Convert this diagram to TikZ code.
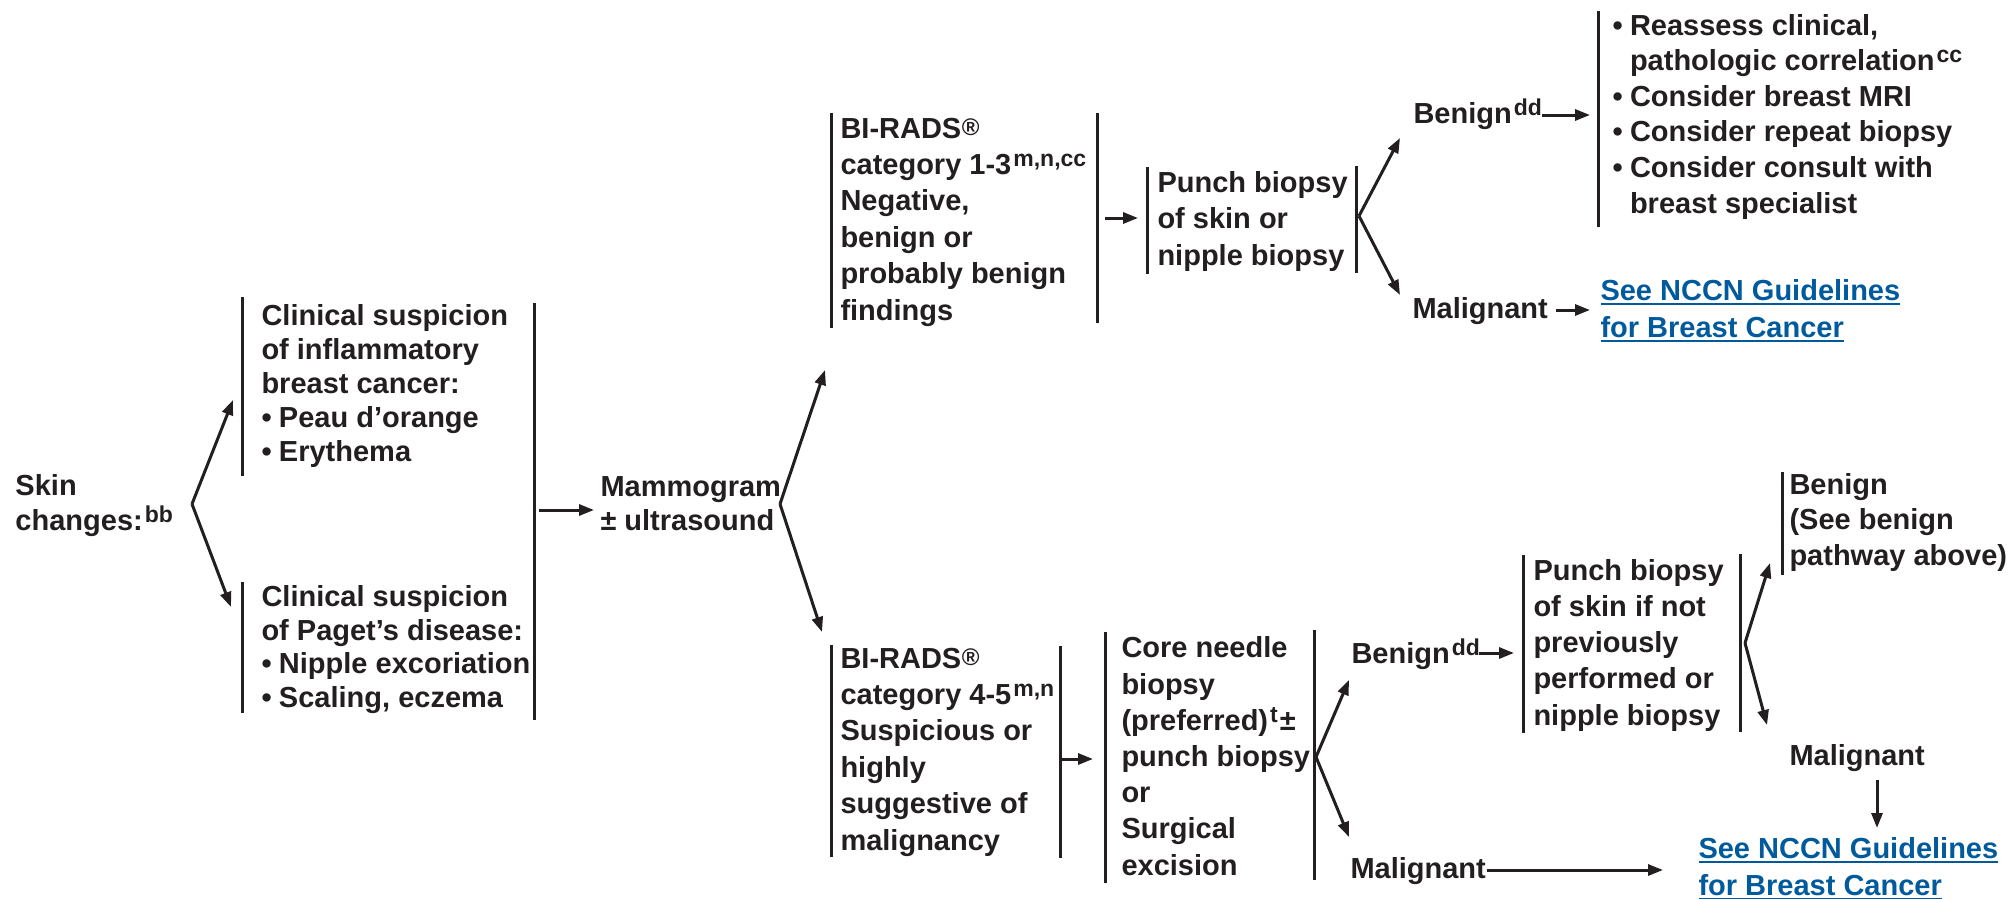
\documentclass[tikz,border=0pt]{standalone}
\usepackage{fontspec}
\setmainfont{Liberation Sans}
\usetikzlibrary{arrows.meta}
\definecolor{ink}{HTML}{231F20}
\definecolor{link}{HTML}{005A9C}
% raised footnote letters
\newcommand\sups[1]{\kern2pt\raisebox{8pt}{\fontsize{23}{23}\selectfont #1}}
% registered mark after BI-RADS
\newcommand\regm{\kern0.5pt\raisebox{3pt}{\fontsize{24}{24}\selectfont ®}}
% bullet item and the matching indent for wrapped lines
\newcommand\bul{\makebox[17.5pt][l]{\textbullet}}
\newcommand\ind{\hspace*{17.5pt}}
% underlined link text
\newcommand\linkline[1]{\setbox0\hbox{#1}\rlap{\rule[-5pt]{\wd0}{2.4pt}}\box0}
\begin{document}
\begin{tikzpicture}[x=1pt,y=-1pt,
  line width=3pt, draw=ink, text=ink,
  % nodes are placed by the baseline of their last line
  txt/.style={anchor=base west, inner sep=0pt, align=left,
    font={\fontsize{29}{#1}\selectfont\bfseries}},
  txt/.default=34.5,
  lnk/.style={txt=#1, text=link},
  arr/.style={-{Triangle[length=15pt,width=11pt]}},
  bar/.style={line width=3pt}]
\useasboundingbox (0,0) rectangle (2011,899);

% ---------- text blocks ----------
\node[txt=35]   (skin)    at (14,530)   {Skin\\changes:\sups{bb}};
\node[txt=34]   (inflam)  at (260,461)  {Clinical suspicion\\of inflammatory\\breast cancer:\\\bul Peau d’orange\\\bul Erythema};
\node[txt=33.5] (paget)   at (260,707)  {Clinical suspicion\\of Paget’s disease:\\\bul Nipple excoriation\\\bul Scaling, eczema};
\node[txt=34]   (mammo)   at (599,530)  {Mammogram\\± ultrasound};
\node[txt=36.4] (birA)    at (839,320)  {BI-RADS\regm\\category 1-3\sups{m,n,cc}\\Negative,\\benign or\\probably benign\\findings};
\node[txt=36.5] (punchA)  at (1156,265) {Punch biopsy\\of skin or\\nipple biopsy};
\node[txt]      (benA)    at (1412,123) {Benign\sups{dd}};
\node[txt=35.6] (reass)   at (1611,213) {\bul Reassess clinical,\\\ind pathologic correlation\sups{cc}\\\bul Consider breast MRI\\\bul Consider repeat biopsy\\\bul Consider consult with\\\ind breast specialist};
\node[txt]      (malA)    at (1411,318) {Malignant};
\node[lnk=37]   (nccnA)   at (1599,337) {\linkline{See NCCN Guidelines}\\\linkline{for Breast Cancer}};

\node[txt=36.4] (birB)    at (839,850)  {BI-RADS\regm\\category 4-5\sups{m,n}\\Suspicious or\\highly\\suggestive of\\malignancy};
\node[txt=36.2] (core)    at (1120,875) {Core needle\\biopsy\\(preferred)\sups{t}\kern2pt±\\punch biopsy\\or\\Surgical\\excision};
\node[txt]      (benB)    at (1350,663) {Benign\sups{dd}};
\node[txt=36.2] (punchB)  at (1532,725) {Punch biopsy\\of skin if not\\previously\\performed or\\nipple biopsy};
\node[txt=35.5] (benC)    at (1788,565) {Benign\\(See benign\\pathway above)};
\node[txt]      (malC)    at (1788,765) {Malignant};
\node[lnk=37]   (nccnB)   at (1697,895) {\linkline{See NCCN Guidelines}\\\linkline{for Breast Cancer}};
\node[txt]      (malB)    at (1349,878) {Malignant};

% ---------- side bars ----------
\draw[bar] (242,297) -- (242,476);
\draw[bar] (242,582) -- (242,713);
\draw[bar] (534,303) -- (534,720);
\draw[bar] (831,113) -- (831,328);
\draw[bar] (1097,113) -- (1097,323);
\draw[bar] (1147,167) -- (1147,274);
\draw[bar] (1356,166) -- (1356,273);
\draw[bar] (1598,11) -- (1598,227);
\draw[bar] (831,645) -- (831,857);
\draw[bar] (1060,646) -- (1060,858);
\draw[bar] (1105,632) -- (1105,883);
\draw[bar] (1314,630) -- (1314,880);
\draw[bar] (1523,555) -- (1523,733);
\draw[bar] (1740,554) -- (1740,732);
\draw[bar] (1782,472) -- (1782,575);

% ---------- connector ends ----------
\coordinate (f1)  at (192,504);
\coordinate (f1a) at (233,400);
\coordinate (f1b) at (231,607);
\coordinate (m0)  at (539,510);
\coordinate (m1)  at (594,510);
\coordinate (f2)  at (780,504);
\coordinate (f2a) at (825,370);
\coordinate (f2b) at (822,632);
\coordinate (p0)  at (1105,218);
\coordinate (p1)  at (1138,218);
\coordinate (f3)  at (1359,216);
\coordinate (f3a) at (1400,138);
\coordinate (f3b) at (1400,295);
\coordinate (b0)  at (1542,115);
\coordinate (b1)  at (1590,115);
\coordinate (k0)  at (1556,310);
\coordinate (k1)  at (1590,310);
\coordinate (c0)  at (1062,759);
\coordinate (c1)  at (1093,759);
\coordinate (f4)  at (1316,757);
\coordinate (f4a) at (1349,680);
\coordinate (f4b) at (1349,837);
\coordinate (d0)  at (1479,653);
\coordinate (d1)  at (1514,653);
\coordinate (f5)  at (1745,643);
\coordinate (f5a) at (1770,563);
\coordinate (f5b) at (1767,725);
\coordinate (g0)  at (1877,780);
\coordinate (g1)  at (1877,828);
\coordinate (h0)  at (1487,870);
\coordinate (h1)  at (1663,870);

% ---------- connectors ----------
\draw[arr] (f1) -- (f1a);
\draw[arr] (f1) -- (f1b);
\draw[arr] (m0) -- (m1);
\draw[arr] (f2) -- (f2a);
\draw[arr] (f2) -- (f2b);
\draw[arr] (p0) -- (p1);
\draw[arr] (f3) -- (f3a);
\draw[arr] (f3) -- (f3b);
\draw[arr] (b0) -- (b1);
\draw[arr] (k0) -- (k1);
\draw[arr] (c0) -- (c1);
\draw[arr] (f4) -- (f4a);
\draw[arr] (f4) -- (f4b);
\draw[arr] (d0) -- (d1);
\draw[arr] (f5) -- (f5a);
\draw[arr] (f5) -- (f5b);
\draw[arr] (g0) -- (g1);
\draw[arr] (h0) -- (h1);
\end{tikzpicture}
\end{document}
